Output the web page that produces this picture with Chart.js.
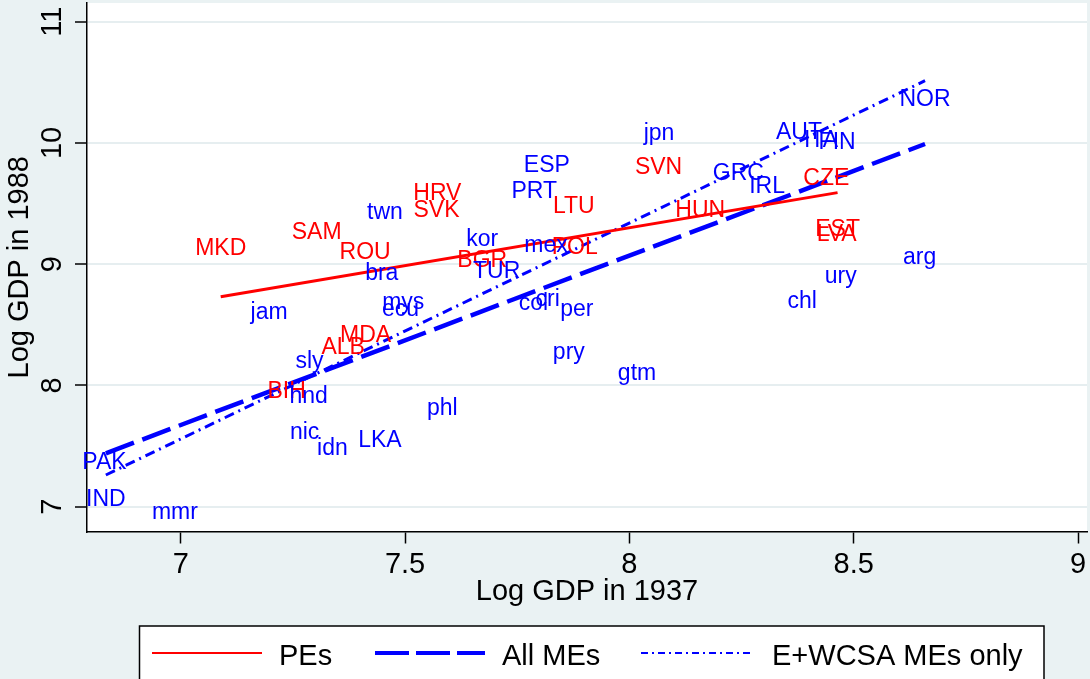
<!DOCTYPE html>
<html>
<head>
<meta charset="utf-8">
<title>Log GDP 1937 vs 1988</title>
<script src="https://cdn.jsdelivr.net/npm/chart.js@4"></script>
<style>
  html, body { margin: 0; padding: 0; background: #eaf2f3; }
</style>
</head>
<body>
<canvas id="gdpChart" width="1090" height="679"></canvas>
<script>
// PEs, labelled in red
const peCodes = ['MKD', 'SAM', 'ROU', 'HRV', 'SVK', 'BGR', 'LTU', 'POL', 'SVN', 'HUN', 'CZE', 'EST', 'LVA', 'MDA', 'ALB', 'BIH'];
const peX = [7.089, 7.303, 7.411, 7.572, 7.570, 7.672, 7.876, 7.878, 8.065, 8.158, 8.439, 8.464, 8.462, 7.412, 7.362, 7.236];
const peY = [9.127, 9.259, 9.094, 9.581, 9.444, 9.031, 9.477, 9.138, 9.795, 9.444, 9.705, 9.282, 9.241, 8.413, 8.308, 7.945];

// MEs, labelled in blue
const meCodes = ['twn', 'ESP', 'PRT', 'kor', 'TUR', 'bra', 'mex', 'jpn', 'GRC', 'IRL', 'AUT', 'ITA', 'FIN', 'arg', 'ury', 'chl', 'NOR',
                 'col', 'cri', 'per', 'pry', 'gtm', 'mys', 'ecu', 'jam', 'sly', 'hnd', 'nic', 'idn', 'LKA', 'phl', 'PAK', 'IND', 'mmr'];
const meX = [7.455, 7.816, 7.788, 7.672, 7.704, 7.448, 7.814, 8.066, 8.243, 8.307, 8.378, 8.427, 8.463, 8.647, 8.471, 8.385, 8.659,
             7.786, 7.818, 7.883, 7.865, 8.017, 7.496, 7.490, 7.197, 7.287, 7.285, 7.276, 7.338, 7.444, 7.583, 6.830, 6.833, 6.987];
const meY = [9.424, 9.815, 9.594, 9.204, 8.940, 8.921, 9.155, 10.075, 9.745, 9.636, 10.081, 10.021, 10.003, 9.053, 8.899, 8.693, 10.359,
             8.673, 8.709, 8.627, 8.269, 8.096, 8.681, 8.624, 8.599, 8.192, 7.904, 7.607, 7.477, 7.546, 7.807, 7.362, 7.056, 6.949];

// fitted lines, end points
const peFitX = [7.089, 8.464];
const peFitY = [8.732, 9.590];
const allFitX = [6.833, 8.659];
const allFitY = [7.440, 9.991];
const ewFitX = [6.833, 8.659];
const ewFitY = [7.261, 10.513];

const xTicks = [7, 7.5, 8, 8.5, 9];
const yTicks = [7, 8, 9, 10, 11];
const legendNames = ['PEs', 'All MEs', 'E+WCSA MEs only'];

const FONT = "'Liberation Sans', Arial, Helvetica, sans-serif";

function toPoints(xs, ys) {
    return xs.map((x, i) => ({ x: x, y: ys[i] }));
}

const stataLook = {
    id: 'stataLook',
    beforeDraw(chart) {
        const { ctx, chartArea: a } = chart;
        ctx.save();
        ctx.fillStyle = '#eaf2f3';
        ctx.fillRect(0, 0, chart.width, chart.height);
        ctx.fillStyle = '#ffffff';
        ctx.fillRect(a.left, a.top, a.right - a.left, a.bottom - a.top);
        ctx.restore();
    },
    afterDatasetsDraw(chart) {
        // country codes are centred on their points
        const ctx = chart.ctx;
        ctx.save();
        ctx.font = '23px ' + FONT;
        ctx.textAlign = 'center';
        ctx.textBaseline = 'middle';
        chart.data.datasets.forEach((ds, i) => {
            if (!ds.codes) return;
            ctx.fillStyle = ds.labelColor;
            chart.getDatasetMeta(i).data.forEach((pt, j) => {
                ctx.fillText(ds.codes[j], pt.x, pt.y);
            });
        });
        ctx.restore();
    },
    afterDraw(chart) {
        const ctx = chart.ctx;
        ctx.save();
        ctx.fillStyle = '#ffffff';
        ctx.fillRect(139.5, 626, 904.5, 70);
        ctx.strokeStyle = '#000000';
        ctx.lineWidth = 1.5;
        ctx.strokeRect(139.5, 626, 904.5, 70);

        const lineStart = [152, 375, 641];
        const textStart = [279, 502, 772];
        const keyWidth = [2, 4, 2];
        ctx.font = '29px ' + FONT;
        ctx.textAlign = 'left';
        ctx.textBaseline = 'alphabetic';
        legendNames.forEach((name, i) => {
            const ds = chart.data.datasets[i];
            ctx.strokeStyle = ds.borderColor;
            ctx.lineWidth = keyWidth[i];
            ctx.setLineDash(ds.legendDash || ds.borderDash || []);
            ctx.beginPath();
            ctx.moveTo(lineStart[i], 653);
            ctx.lineTo(lineStart[i] + 110, 653);
            ctx.stroke();
            ctx.setLineDash([]);
            ctx.fillStyle = '#000000';
            ctx.fillText(name, textStart[i], 664.5);
        });
        ctx.restore();
    }
};

const tickFont = { family: FONT, size: 29 };

new Chart(document.getElementById('gdpChart').getContext('2d'), {
    type: 'scatter',
    data: {
        datasets: [
            {
                label: legendNames[0], type: 'line', data: toPoints(peFitX, peFitY),
                borderColor: '#ff0000', borderWidth: 3, borderDash: [], pointRadius: 0, fill: false
            },
            {
                label: legendNames[1], type: 'line', data: toPoints(allFitX, allFitY),
                borderColor: '#0000ff', borderWidth: 4.5, borderDash: [30, 9], legendDash: [34, 7], pointRadius: 0, fill: false
            },
            {
                label: legendNames[2], type: 'line', data: toPoints(ewFitX, ewFitY),
                borderColor: '#0000ff', borderWidth: 3, borderDash: [10, 5, 2, 5], legendDash: [7, 4, 2, 4], pointRadius: 0, fill: false
            },
            {
                label: 'PE codes', data: toPoints(peX, peY), pointRadius: 0,
                codes: peCodes, labelColor: '#ff0000'
            },
            {
                label: 'ME codes', data: toPoints(meX, meY), pointRadius: 0,
                codes: meCodes, labelColor: '#0000ff'
            }
        ]
    },
    options: {
        responsive: false,
        animation: false,
        events: [],
        layout: { padding: { top: 3, right: 3, bottom: 67, left: 0 } },
        plugins: {
            legend: { display: false },
            tooltip: { enabled: false }
        },
        scales: {
            x: {
                type: 'linear',
                min: 6.791,
                max: 9.02,
                afterBuildTicks: s => { s.ticks = xTicks.map(v => ({ value: v })); },
                afterFit: s => { s.height = 80.5; s.paddingLeft = 0; s.paddingRight = 0; },
                grid: { drawOnChartArea: false, tickLength: 12, tickColor: '#000000', tickWidth: 1.5 },
                border: { color: '#000000', width: 1.5 },
                ticks: { color: '#000000', font: tickFont, padding: 4, autoSkip: false, maxRotation: 0, callback: v => String(v) },
                title: { display: true, text: 'Log GDP in 1937', color: '#000000', font: tickFont, padding: { top: 0, bottom: 3 } }
            },
            y: {
                type: 'linear',
                min: 6.795,
                max: 11.154,
                afterBuildTicks: s => { s.ticks = yTicks.map(v => ({ value: v })); },
                afterFit: s => { s.width = 87; s.paddingTop = 0; s.paddingBottom = 0; },
                grid: { color: '#e6eef0', lineWidth: 2, tickLength: 12, tickColor: '#000000', tickWidth: 1.5 },
                border: { color: '#000000', width: 1.5 },
                ticks: { color: '#000000', font: tickFont, padding: 6, minRotation: 90, maxRotation: 90, crossAlign: 'center', callback: v => String(v) },
                title: { display: true, text: 'Log GDP in 1988', color: '#000000', font: tickFont, padding: { top: 3, bottom: 0 } }
            }
        }
    },
    plugins: [stataLook]
});
</script>
</body>
</html>
